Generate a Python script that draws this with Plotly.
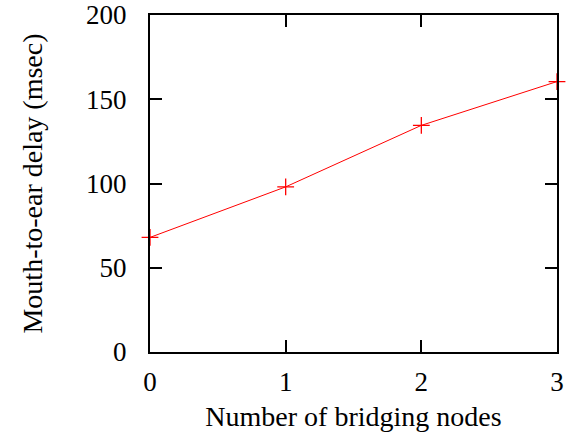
import plotly.graph_objects as go

nodes = [0, 1, 2, 3]
delay = [68, 98, 134.5, 160.5]
x_ticks = [0, 1, 2, 3]
y_ticks = [0, 50, 100, 150, 200]

fig = go.Figure()
fig.add_trace(go.Scatter(
    x=nodes, y=delay, mode="lines+markers",
    line=dict(color="red", width=1),
    marker=dict(symbol="cross-thin", size=12, line=dict(color="red", width=1.3)),
    showlegend=False, cliponaxis=False,
))

font = dict(family="Liberation Serif, Times New Roman, serif", size=28, color="black")
tick_font = dict(family="Liberation Serif, Times New Roman, serif", size=27, color="black")
axis_common = dict(
    showgrid=False, zeroline=False, showline=True, linecolor="black", linewidth=2,
    mirror="ticks", ticks="inside", ticklen=12, tickwidth=2, tickcolor="black",
    tickfont=tick_font, ticklabeloverflow="allow",
)
fig.update_xaxes(range=[0, 3], tickvals=x_ticks, ticktext=[str(v) for v in x_ticks],
                 ticklabelstandoff=5,
                 title=dict(text="Number of bridging nodes", font=font, standoff=10),
                 **axis_common)
fig.update_yaxes(range=[0, 200], tickvals=y_ticks, ticktext=[str(v) for v in y_ticks],
                 ticklabelstandoff=16,
                 title=dict(text="Mouth-to-ear delay (msec)", font=font, standoff=35),
                 **axis_common)
fig.update_layout(
    width=580, height=440,
    margin=dict(l=150, r=23, t=15, b=88, autoexpand=False),
    plot_bgcolor="white", paper_bgcolor="white",
    font=font,
)
fig.write_html("out.html", config={"displayModeBar": False},
               post_script="document.body.style.margin='0';")
